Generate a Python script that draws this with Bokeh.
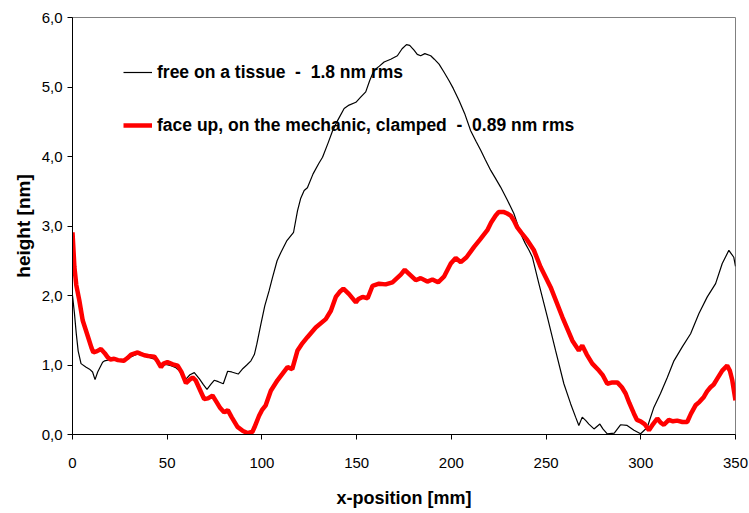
from bokeh.plotting import figure
from bokeh.models import Range1d, FixedTicker, CustomJSTickFormatter, Legend, LegendItem
from bokeh.embed import file_html
from bokeh.resources import INLINE

# ---- data ----
free_x = [0, 1, 2, 3, 4.5, 7, 9, 10.6, 11.9, 13.3, 15.9, 17, 20.3, 23, 27, 31, 34.4, 38, 41.4, 44,
          46.7, 49.3, 52, 54.6, 56.3, 58, 60, 62, 64.3, 67, 69, 71, 73, 74.8, 77, 79.6, 81.9, 84,
          87.5, 90, 92, 94.2, 96, 97.3, 99.4, 101.5, 103.8, 105.6, 108, 110, 113.2, 116.7, 118.8,
          120.5, 122.3, 124, 127, 130, 132, 135, 137.3, 140, 143.4, 146, 149.6, 152, 154.8, 157,
          159.2, 162, 164.5, 168, 171.5, 174, 176.3, 178, 180.3, 182, 183.8, 186, 189.1, 191,
          193.5, 196, 198.8, 201, 204, 207, 210.2, 213, 215.5, 218, 220.8, 223, 226, 229.6, 233,
          236.6, 239, 241, 242.8, 246.2, 250.7, 255, 259.4, 263, 265.6, 267.3, 269.1, 271, 272.6,
          275.3, 278.4, 280, 282.3, 286, 289.3, 292.8, 296.4, 299.9, 303.4, 306.9, 310.4, 314,
          317.5, 321.9, 326.3, 330.7, 335.1, 339.5, 343, 346.5, 349.1, 350]
free_y = [2.0, 1.75, 1.45, 1.2, 1.02, 0.97, 0.94, 0.90, 0.79, 0.90, 1.04, 1.06, 1.08, 1.07, 1.05,
          1.12, 1.16, 1.13, 1.10, 1.08, 0.97, 1.01, 0.99, 0.96, 0.92, 0.85, 0.80, 0.86, 0.89, 0.80,
          0.72, 0.65, 0.72, 0.78, 0.76, 0.73, 0.91, 0.90, 0.87, 0.95, 1.00, 1.06, 1.15, 1.30, 1.58,
          1.85, 2.07, 2.26, 2.50, 2.62, 2.79, 2.91, 3.22, 3.40, 3.51, 3.55, 3.75, 3.90, 3.99, 4.20,
          4.37, 4.52, 4.69, 4.74, 4.78, 4.85, 4.93, 5.10, 5.24, 5.30, 5.36, 5.40, 5.45, 5.55, 5.61,
          5.60, 5.53, 5.47, 5.45, 5.48, 5.45, 5.40, 5.33, 5.22, 5.09, 4.98, 4.81, 4.62, 4.37, 4.22,
          4.09, 3.95, 3.80, 3.70, 3.56, 3.37, 3.18, 2.89, 2.75, 2.65, 2.55, 2.17, 1.69, 1.21, 0.73,
          0.44, 0.25, 0.13, 0.25, 0.20, 0.15, 0.08, 0.15, 0.08, 0.01, 0.02, 0.14, 0.13, 0.06, 0.01,
          0.10, 0.39, 0.59, 0.82, 1.06, 1.26, 1.45, 1.74, 1.98, 2.17, 2.46, 2.65, 2.55, 2.42]

clamp_x = [0, 1, 2, 3.6, 5.4, 8, 10, 11, 13, 15, 17, 18.6, 20, 22, 24, 27, 29, 30.9, 34.4, 36,
           37.9, 40, 43.2, 45, 46.7, 48, 50.1, 53, 55.5, 57.5, 59.9, 61.5, 63.4, 65, 67.5, 69.5,
           71.5, 73.9, 76, 78, 80, 82, 84, 87.1, 90, 92.4, 95, 96, 98.5, 100, 102, 104.7, 108.2,
           111, 113.5, 116, 118.8, 121, 124, 128.4, 133.7, 136.4, 139, 141, 143, 146, 149.6, 151,
           153.1, 155.8, 158.4, 161.8, 165.3, 168.9, 173.3, 175.4, 178.5, 181.2, 183.8, 187.3, 190,
           193, 196.1, 199.7, 202.3, 205, 208, 212, 215, 219, 221, 223.4, 225, 227.8, 229.5, 231.3,
           233, 234.8, 237, 240, 243.6, 247.1, 252.4, 258.6, 263.9, 267.3, 269.1, 271.5, 274.4,
           277.9, 280, 282.3, 285, 287.6, 290, 292, 294, 296.4, 298, 299.9, 302, 304.3, 306.5,
           308.7, 310.5, 312.2, 314.8, 317, 319.2, 322, 324.5, 326.5, 328.9, 331, 333.3, 335,
           336.8, 338.5, 340.3, 343, 345.6, 347, 348.3, 350]
clamp_y = [2.91, 2.41, 2.15, 1.93, 1.64, 1.42, 1.25, 1.18, 1.20, 1.23, 1.17, 1.11, 1.08, 1.09,
           1.07, 1.06, 1.10, 1.15, 1.18, 1.16, 1.14, 1.13, 1.12, 1.05, 0.97, 1.02, 1.04, 1.01, 0.99,
           0.90, 0.74, 0.78, 0.82, 0.78, 0.63, 0.51, 0.52, 0.56, 0.47, 0.38, 0.32, 0.35, 0.25, 0.11,
           0.05, 0.02, 0.04, 0.10, 0.27, 0.35, 0.42, 0.63, 0.78, 0.88, 0.97, 0.94, 1.21, 1.30, 1.40,
           1.54, 1.66, 1.78, 1.98, 2.05, 2.10, 2.02, 1.90, 1.95, 1.98, 1.96, 2.14, 2.17, 2.16, 2.19,
           2.30, 2.37, 2.29, 2.22, 2.25, 2.20, 2.23, 2.19, 2.27, 2.46, 2.54, 2.48, 2.55, 2.70, 2.80,
           2.94, 3.05, 3.15, 3.20, 3.20, 3.18, 3.15, 3.08, 2.98, 2.90, 2.80, 2.65, 2.41, 2.12, 1.69,
           1.35, 1.21, 1.28, 1.15, 1.02, 0.92, 0.85, 0.73, 0.75, 0.75, 0.68, 0.59, 0.45, 0.30, 0.21,
           0.19, 0.15, 0.06, 0.15, 0.23, 0.17, 0.14, 0.21, 0.19, 0.20, 0.18, 0.18, 0.30, 0.42, 0.47,
           0.54, 0.62, 0.68, 0.72, 0.80, 0.92, 0.99, 0.92, 0.78, 0.49]

x_ticks = [0, 50, 100, 150, 200, 250, 300, 350]
y_ticks = [0, 1, 2, 3, 4, 5, 6]
label_free = "free on a tissue \u00a0-\u00a0 1.8 nm rms"
label_clamp = "face up, on the mechanic, clamped \u00a0-\u00a0 0.89 nm rms"
x_title = "x-position [mm]"
y_title = "height [nm]"

FONT = "Liberation Sans"

p = figure(width=749, height=513, output_backend="svg", toolbar_location=None,
           x_range=Range1d(0, 350), y_range=Range1d(0, 6),
           min_border_left=72, min_border_right=14, min_border_top=17, min_border_bottom=79)

p.background_fill_color = "white"
p.border_fill_color = "white"
p.outline_line_color = "#808080"
p.outline_line_width = 1
p.grid.visible = False

for ax in (p.xaxis[0], p.yaxis[0]):
    ax.axis_line_color = "black"
    ax.axis_line_width = 1
    ax.major_tick_line_color = "black"
    ax.major_tick_in = 0
    ax.major_tick_out = 5
    ax.minor_tick_line_color = None
    ax.major_label_text_font = FONT
    ax.major_label_text_font_size = "15px"
    ax.major_label_text_color = "black"
    ax.axis_label_text_font = FONT
    ax.axis_label_text_font_size = "18px"
    ax.axis_label_text_font_style = "bold"
    ax.axis_label_text_color = "black"

p.yaxis.axis_label_text_font_size = "19px"
p.xaxis.ticker = FixedTicker(ticks=x_ticks)
p.yaxis.ticker = FixedTicker(ticks=y_ticks)
p.yaxis.formatter = CustomJSTickFormatter(code="return tick.toFixed(1).replace('.', ',');")
p.xaxis.axis_label = x_title
p.yaxis.axis_label = y_title
p.xaxis.major_label_standoff = 18
p.xaxis.axis_label_standoff = 17
p.yaxis.major_label_standoff = 5
p.yaxis.axis_label_standoff = 5

r_free = p.line(free_x, free_y, line_color="black", line_width=1.2)
r_clamp = p.line(clamp_x, clamp_y, line_color="#ff0000", line_width=4.5)

legend = Legend(items=[LegendItem(label=label_free, renderers=[r_free]),
                       LegendItem(label=label_clamp, renderers=[r_clamp])],
                location=(51, 297), orientation="vertical",
                spacing=29, padding=0, margin=0,
                glyph_width=29, glyph_height=24, label_height=24, label_standoff=5,
                border_line_color=None, background_fill_alpha=0,
                label_text_font=FONT, label_text_font_size="17.5px",
                label_text_font_style="bold", label_text_color="black")
p.add_layout(legend)

open("out.html", "w").write(file_html(p, INLINE))
